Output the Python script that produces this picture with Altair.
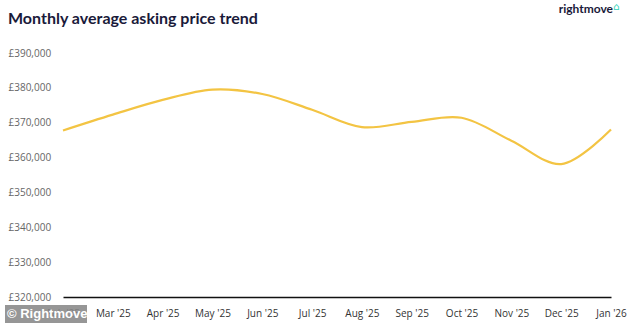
import altair as alt
import pandas as pd

months = ["Feb '25", "Mar '25", "Apr '25", "May '25", "Jun '25", "Jul '25",
          "Aug '25", "Sep '25", "Oct '25", "Nov '25", "Dec '25", "Jan '26"]
prices = [367785, 372324, 376552, 379517, 378240, 373709,
          368740, 370257, 371422, 364833, 358138, 368031]
y_ticks = [320000, 330000, 340000, 350000, 360000, 370000, 380000, 390000]

df = pd.DataFrame({"month": months, "price": prices})
one = pd.DataFrame({"a": [0]})

FONT = "Open Sans"

line = alt.Chart(df).mark_line(
    color="#F3C443", strokeWidth=2.2, interpolate="catmull-rom"
).encode(
    x=alt.X("month:N", sort=months,
            scale=alt.Scale(type="point", padding=0),
            axis=alt.Axis(title=None, labelAngle=0, ticks=False, grid=False,
                          domainColor="#111111", domainWidth=1.5,
                          labelFont=FONT, labelFontSize=10, labelColor="#333333",
                          labelPadding=11)),
    y=alt.Y("price:Q", scale=alt.Scale(domain=[320000, 390000], nice=False, zero=False),
            axis=alt.Axis(title=None, values=y_ticks, domain=False, ticks=False, grid=False,
                          labelExpr="'£' + format(datum.value, ',')",
                          labelAlign="left", labelPadding=55,
                          labelFont=FONT, labelFontSize=10, labelColor="#666666")),
)

title = alt.Chart(one).mark_text(
    text="Monthly average asking price trend", align="left", baseline="alphabetic",
    font="Lato", fontWeight="bold", fontSize=16, color="#1A1A3A"
).encode(x=alt.value(-55), y=alt.value(-29))

logo = alt.Chart(one).mark_text(
    text="rightmove", align="right", baseline="middle",
    font="Lato", fontWeight="bold", fontSize=12, color="#1A1A3A"
).encode(x=alt.value(550), y=alt.value(-44))

house = alt.Chart(one).mark_text(
    text="⌂", align="left", baseline="middle",
    font="DejaVu Sans", fontSize=10, color="#2ED3B7"
).encode(x=alt.value(550), y=alt.value(-46))

wm_box = alt.Chart(one).mark_rect(color="#888888", opacity=0.88).encode(
    x=alt.value(-58), x2=alt.value(24), y=alt.value(252), y2=alt.value(270))

wm_text = alt.Chart(one).mark_text(
    text="© Rightmove", align="left", baseline="middle",
    font="Liberation Sans", fontWeight="bold", fontSize=13, color="#ffffff"
).encode(x=alt.value(-56), y=alt.value(261))

chart = alt.layer(line, title, logo, house, wm_box, wm_text).properties(
    width=548, height=244,
    autosize=alt.AutoSizeParams(type="none"),
    padding={"left": 63, "top": 53, "right": 23, "bottom": 28},
).configure(background="white").configure_view(stroke=None)

chart.save("out.html", embed_options={"renderer": "svg", "actions": False})
